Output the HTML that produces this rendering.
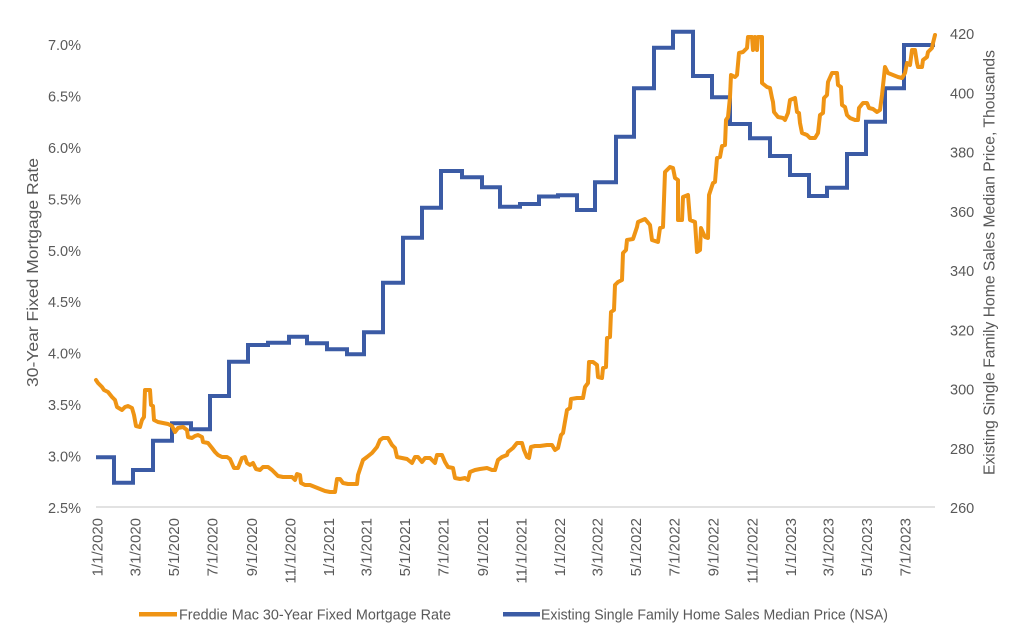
<!DOCTYPE html>
<html>
<head>
<meta charset="utf-8">
<style>
  html,body{margin:0;padding:0;background:#ffffff;}
  svg{display:block;}
  text{font-family:"Liberation Sans",Arial,sans-serif;fill:#595959;}
</style>
</head>
<body>
<svg width="1024" height="640" viewBox="0 0 1024 640" xmlns="http://www.w3.org/2000/svg">
  <rect x="0" y="0" width="1024" height="640" fill="#ffffff"/>

  <!-- bottom axis line -->
  <line x1="96" y1="507" x2="935" y2="507" stroke="#d9d9d9" stroke-width="1.5"/>

  <!-- Left axis labels -->
  <g font-size="14.5" text-anchor="end">
    <text x="81" y="50">7.0%</text>
    <text x="81" y="101.5">6.5%</text>
    <text x="81" y="152.9">6.0%</text>
    <text x="81" y="204.3">5.5%</text>
    <text x="81" y="255.8">5.0%</text>
    <text x="81" y="307.2">4.5%</text>
    <text x="81" y="358.7">4.0%</text>
    <text x="81" y="410.1">3.5%</text>
    <text x="81" y="461.6">3.0%</text>
    <text x="81" y="513">2.5%</text>
  </g>

  <!-- Right axis labels -->
  <g font-size="14.5" text-anchor="start">
    <text x="950" y="39">420</text>
    <text x="950" y="98.3">400</text>
    <text x="950" y="157.5">380</text>
    <text x="950" y="216.8">360</text>
    <text x="950" y="276">340</text>
    <text x="950" y="335.3">320</text>
    <text x="950" y="394.5">300</text>
    <text x="950" y="453.8">280</text>
    <text x="950" y="513">260</text>
  </g>

  <!-- Axis titles -->
  <text x="38" y="272.5" font-size="16" text-anchor="middle" textLength="229" lengthAdjust="spacingAndGlyphs" transform="rotate(-90 38 272.5)">30-Year Fixed Mortgage Rate</text>
  <text x="994.5" y="262.5" font-size="15.5" text-anchor="middle" textLength="425" lengthAdjust="spacingAndGlyphs" transform="rotate(-90 994.5 262.5)">Existing Single Family Home Sales Median Price, Thousands</text>

  <!-- X axis labels -->
  <g font-size="15" text-anchor="end">
    <text x="102.5" y="518" transform="rotate(-90 102.5 518)">1/1/2020</text>
    <text x="140.5" y="518" transform="rotate(-90 140.5 518)">3/1/2020</text>
    <text x="179.1" y="518" transform="rotate(-90 179.1 518)">5/1/2020</text>
    <text x="217.7" y="518" transform="rotate(-90 217.7 518)">7/1/2020</text>
    <text x="256.9" y="518" transform="rotate(-90 256.9 518)">9/1/2020</text>
    <text x="295.5" y="518" transform="rotate(-90 295.5 518)">11/1/2020</text>
    <text x="334.1" y="518" transform="rotate(-90 334.1 518)">1/1/2021</text>
    <text x="371.4" y="518" transform="rotate(-90 371.4 518)">3/1/2021</text>
    <text x="410" y="518" transform="rotate(-90 410 518)">5/1/2021</text>
    <text x="448.5" y="518" transform="rotate(-90 448.5 518)">7/1/2021</text>
    <text x="487.8" y="518" transform="rotate(-90 487.8 518)">9/1/2021</text>
    <text x="526.4" y="518" transform="rotate(-90 526.4 518)">11/1/2021</text>
    <text x="565" y="518" transform="rotate(-90 565 518)">1/1/2022</text>
    <text x="602.3" y="518" transform="rotate(-90 602.3 518)">3/1/2022</text>
    <text x="640.9" y="518" transform="rotate(-90 640.9 518)">5/1/2022</text>
    <text x="679.5" y="518" transform="rotate(-90 679.5 518)">7/1/2022</text>
    <text x="718.7" y="518" transform="rotate(-90 718.7 518)">9/1/2022</text>
    <text x="757.3" y="518" transform="rotate(-90 757.3 518)">11/1/2022</text>
    <text x="795.9" y="518" transform="rotate(-90 795.9 518)">1/1/2023</text>
    <text x="833.3" y="518" transform="rotate(-90 833.3 518)">3/1/2023</text>
    <text x="871.9" y="518" transform="rotate(-90 871.9 518)">5/1/2023</text>
    <text x="910.5" y="518" transform="rotate(-90 910.5 518)">7/1/2023</text>
  </g>

  <!-- Blue series: median price (step) -->
  <path fill="none" stroke="#3b5ba5" stroke-width="4" stroke-linejoin="miter"
    d="M96,457.3 H114 V482.7 H133 V470 H153 V440.7 H172 V423.3 H191 V429.3 H210 V396 H229 V361.7 H248 V345 H268 V342.7 H289 V336.7 H307 V343.3 H327 V349.3 H347 V354.3 H364 V332.3 H383 V282.7 H403 V237.7 H422 V207.7 H441 V171 H462 V177.3 H482 V187.3 H500 V206.7 H520 V204 H539 V196.5 H558 V195.3 H577 V210 H595 V182.3 H616 V136.7 H634 V88.3 H654 V47.7 H673 V31.7 H693 V76 H712 V97.3 H730 V124 H750 V138.3 H770 V156 H790 V175 H809 V196 H827 V187.7 H847 V154 H866 V121.7 H885 V88.3 H904 V45 H935"/>

  <!-- Orange series: mortgage rate -->
  <polyline fill="none" stroke="#ef9414" stroke-width="4" stroke-linejoin="round" stroke-linecap="round"
    points="96,380 98,383 102,387 104,390 108,392 112,397 115,400 117,407 122,410 125,407 128,406 132,408 134,415 136,426 140,427 142,420 144,417 145,390 150,390 151,405 153,406 154,420 158,422 163,423 168,424 172,426 175,432 178,428 183,427 187,430 188,437 192,438 195,436 198,435 202,437 203,442 208,443 212,448 215,452 218,455 222,457 227,457 230,459 234,468 238,468 242,458 245,457 247,463 250,465 253,463 256,469 260,470 263,467 268,467 272,470 275,473 278,476 283,477 288,477 292,477 295,480 297,474 300,475 301,483 305,485 310,485 315,487 320,489 325,491 330,492 335,492 337,479 340,479 343,483 348,484 353,484 357,484 358,475 363,460 367,457 372,453 377,447 380,440 383,438 388,438 392,445 395,448 397,457 402,458 407,459 412,463 415,457 418,457 422,462 425,458 430,458 435,463 437,455 442,455 445,462 448,467 453,468 455,478 460,479 465,478 468,480 470,472 475,470 480,469 487,468 492,470 495,470 498,460 502,457 507,455 508,452 513,448 517,443 522,443 524,450 527,457 529,458 531,447 535,446 540,446 547,445 552,445 555,450 558,448 561,435 563,433 567,410 570,408 571,399 577,398 583,398 585,387 588,383 589,362 593,362 597,365 598,377 602,378 603,368 606,367 607,338 610,337 611,312 614,310 615,285 618,282 622,280 623,253 626,250 627,240 633,239 637,227 638,222 645,219 650,225 652,240 658,242 660,228 663,227 665,172 670,167 673,168 675,178 678,180 678,220 682,220 683,197 688,195 690,220 695,222 697,252 700,250 701,228 705,237 708,238 709,195 713,183 715,182 717,158 720,157 722,146 725,145 726,120 728,117 730,97 731,75 735,77 737,75 739,53 743,52 747,48 748,37 752,37 753,50 755,37 757,50 758,37 762,37 762,83 767,87 770,88 772,98 773,102 774,112 778,117 783,118 785,120 788,113 790,100 795,98 797,112 799,113 800,123 802,133 807,135 810,138 815,138 818,133 820,115 823,113 824,98 827,95 828,82 832,73 837,73 838,85 841,87 842,105 845,107 847,115 850,118 855,120 858,120 859,108 863,103 867,103 869,108 873,109 877,112 880,110 882,95 885,67 888,73 893,75 898,77 902,78 905,73 907,63 910,65 912,50 915,50 917,63 918,67 922,67 923,60 927,57 928,52 932,48 933,43 935,35"/>

  <!-- Legend -->
  <line x1="139" y1="614.3" x2="177" y2="614.3" stroke="#ef9414" stroke-width="4.5"/>
  <text x="179" y="619.3" font-size="14.5" textLength="272" lengthAdjust="spacingAndGlyphs">Freddie Mac 30-Year Fixed Mortgage Rate</text>
  <line x1="503" y1="614.3" x2="540" y2="614.3" stroke="#3b5ba5" stroke-width="4.5"/>
  <text x="541" y="619.3" font-size="14.5" textLength="347" lengthAdjust="spacingAndGlyphs">Existing Single Family Home Sales Median Price (NSA)</text>
</svg>
</body>
</html>
